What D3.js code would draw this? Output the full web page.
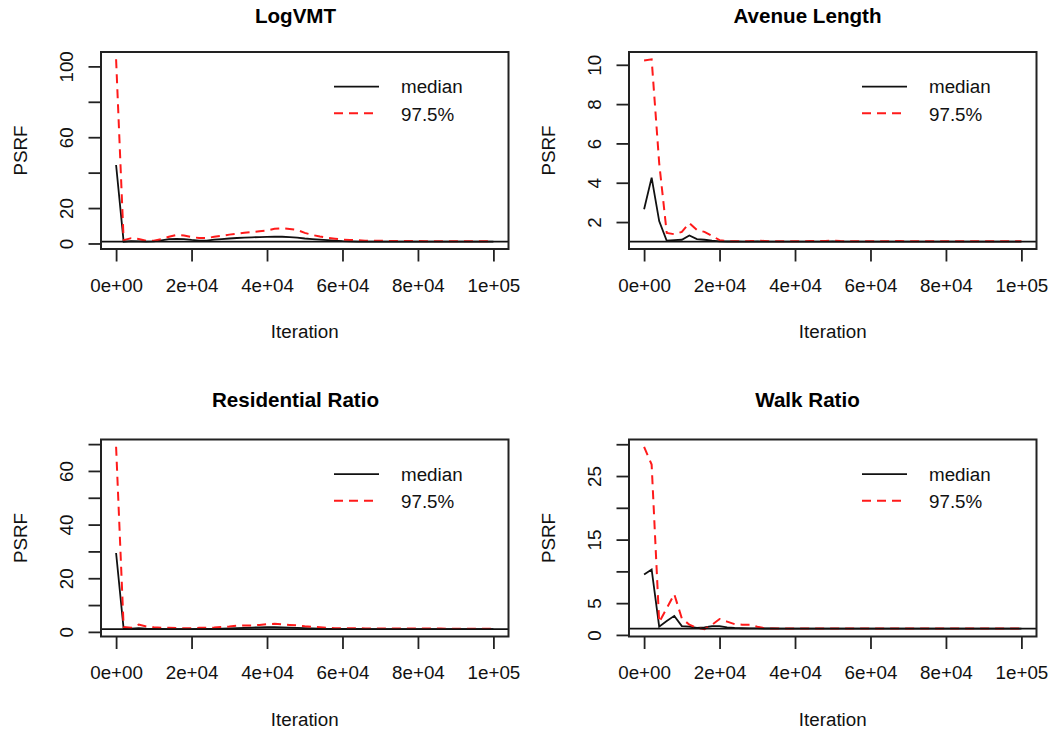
<!DOCTYPE html>
<html>
<head>
<meta charset="utf-8">
<script src="https://cdn.jsdelivr.net/npm/d3@7"></script>
<style>
  body { margin: 0; background: #fff; }
  text { font-family: "Liberation Sans", Arial, sans-serif; }
</style>
</head>
<body>
<svg id="chart"></svg>
<script>
// iterations at which the shrink factor was computed
const iterations = [0, 2000, 4000, 6000, 8000, 10000, 12000, 14000, 16000, 18000,
  20000, 22000, 24000, 26000, 28000, 30000, 32000, 34000, 36000, 38000,
  40000, 42000, 44000, 46000, 48000, 50000, 52000, 54000, 56000, 58000,
  60000, 62000, 64000, 66000, 68000, 70000, 72000, 74000, 76000, 78000,
  80000, 82000, 84000, 86000, 88000, 90000, 92000, 94000, 96000, 98000, 100000];

const logvmtMedian = [44.3, 1.0, 1.3, 1.2, 1.1, 1.2, 1.8, 2.4, 2.6, 2.5,
  2.0, 1.6, 1.6, 2.2, 2.5, 2.8, 3.1, 3.3, 3.5, 3.6,
  3.7, 3.8, 3.8, 3.6, 3.3, 2.8, 2.5, 2.2, 1.9, 1.6,
  1.3, 1.2, 1.1, 1.1, 1.1, 1.08, 1.08, 1.07, 1.06, 1.06,
  1.05, 1.05, 1.05, 1.04, 1.04, 1.04, 1.03, 1.03, 1.03, 1.03, 1.02];
const logvmtUpper = [104, 1.8, 3.0, 2.5, 1.5, 1.6, 2.5, 3.8, 4.8, 4.5,
  3.6, 3.1, 3.0, 3.8, 4.3, 5.0, 5.5, 6.0, 6.4, 6.9,
  7.3, 8.3, 8.6, 8.2, 7.6, 6.0, 4.8, 3.9, 3.2, 2.7,
  2.2, 2.0, 1.8, 1.6, 1.5, 1.5, 1.45, 1.4, 1.4, 1.35,
  1.35, 1.3, 1.3, 1.3, 1.28, 1.25, 1.25, 1.22, 1.2, 1.2, 1.18];

const avenueMedian = [2.65, 4.26, 2.05, 1.05, 1.08, 1.1, 1.32, 1.13, 1.1, 1.05,
  1.02, 1.01, 1.01, 1.0, 1.0, 1.01, 1.0, 1.0, 1.0, 1.0,
  1.0, 1.0, 1.0, 1.0, 1.0, 1.01, 1.0, 1.0, 1.0, 1.0,
  1.0, 1.0, 1.0, 1.0, 1.0, 1.0, 1.0, 1.0, 1.0, 1.0,
  1.0, 1.0, 1.0, 1.0, 1.0, 1.0, 1.0, 1.0, 1.0, 1.0, 1.0];
const avenueUpper = [10.22, 10.28, 5.0, 1.45, 1.38, 1.5, 1.95, 1.6, 1.5, 1.3,
  1.08, 1.03, 1.02, 1.02, 1.03, 1.05, 1.04, 1.02, 1.02, 1.02,
  1.02, 1.02, 1.03, 1.03, 1.04, 1.05, 1.03, 1.02, 1.02, 1.02,
  1.02, 1.02, 1.02, 1.03, 1.03, 1.02, 1.02, 1.02, 1.02, 1.02,
  1.02, 1.02, 1.02, 1.02, 1.02, 1.02, 1.02, 1.02, 1.02, 1.02, 1.02];

const residentialMedian = [29.4, 1.1, 1.2, 1.4, 1.2, 1.1, 1.1, 1.05, 1.05, 1.05,
  1.05, 1.1, 1.1, 1.15, 1.2, 1.3, 1.4, 1.5, 1.6, 1.7,
  1.75, 1.75, 1.7, 1.6, 1.5, 1.4, 1.3, 1.2, 1.15, 1.1,
  1.08, 1.07, 1.07, 1.06, 1.06, 1.05, 1.05, 1.05, 1.04, 1.04,
  1.04, 1.03, 1.03, 1.03, 1.03, 1.02, 1.02, 1.02, 1.02, 1.02, 1.02];
const residentialUpper = [69, 1.8, 1.5, 2.7, 2.0, 1.7, 1.5, 1.5, 1.4, 1.4,
  1.4, 1.5, 1.5, 1.6, 1.8, 2.0, 2.3, 2.4, 2.4, 2.6,
  2.9, 3.0, 2.8, 2.6, 2.4, 2.1, 1.9, 1.7, 1.5, 1.4,
  1.4, 1.35, 1.35, 1.3, 1.3, 1.3, 1.28, 1.28, 1.25, 1.25,
  1.25, 1.22, 1.22, 1.22, 1.2, 1.2, 1.2, 1.2, 1.2, 1.2, 1.2];

const walkMedian = [9.5, 10.3, 1.3, 2.2, 3.0, 1.4, 1.3, 1.1, 1.2, 1.4,
  1.4, 1.2, 1.1, 1.05, 1.02, 1.02, 1.01, 1.01, 1.0, 1.0,
  1.0, 1.0, 1.0, 1.0, 1.0, 1.0, 1.0, 1.0, 1.0, 1.0,
  1.0, 1.0, 1.0, 1.0, 1.0, 1.0, 1.0, 1.0, 1.0, 1.0,
  1.0, 1.0, 1.0, 1.0, 1.0, 1.0, 1.0, 1.0, 1.0, 1.0, 1.0];
const walkUpper = [29.6, 26.8, 2.0, 4.2, 6.4, 2.6, 1.6, 1.1, 0.9, 1.6,
  2.5, 2.1, 1.7, 1.6, 1.6, 1.3, 1.05, 1.02, 1.0, 1.0,
  1.0, 1.0, 1.0, 1.0, 1.0, 1.0, 1.0, 1.0, 1.0, 1.02,
  1.02, 1.01, 1.0, 1.0, 1.0, 1.0, 1.0, 1.01, 1.01, 1.0,
  1.0, 1.0, 1.0, 1.0, 1.0, 1.01, 1.01, 1.0, 1.0, 1.0, 1.0];

// tick values and labels (R drops labels that would overlap)
const xTicks = [0, 20000, 40000, 60000, 80000, 100000];
const xTickLabels = ["0e+00", "2e+04", "4e+04", "6e+04", "8e+04", "1e+05"];
const logvmtTicks = [0, 20, 40, 60, 80, 100];
const logvmtTickLabels = ["0", "20", "", "60", "", "100"];
const avenueTicks = [2, 4, 6, 8, 10];
const avenueTickLabels = ["2", "4", "6", "8", "10"];
const residentialTicks = [0, 10, 20, 30, 40, 50, 60, 70];
const residentialTickLabels = ["0", "", "20", "", "40", "", "60", ""];
const walkTicks = [0, 5, 10, 15, 20, 25, 30];
const walkTickLabels = ["0", "5", "", "15", "", "25", ""];

const legendLabels = ["median", "97.5%"];

const width = 1060;
const height = 733;
const box = { left: 101, right: 508.5, top: 52, bottom: 249 };
const colX = [0, 528];
const rowY = [0, 387.5];
const titleX = [295.5, 807.5];
const titleY = [23, 407];

const svg = d3.select("#chart")
  .attr("width", width)
  .attr("height", height)
  .attr("viewBox", `0 0 ${width} ${height}`);

svg.append("rect").attr("width", width).attr("height", height).attr("fill", "#fff");

const panels = [
  { title: "LogVMT", col: 0, row: 0, median: logvmtMedian, upper: logvmtUpper, yTicks: logvmtTicks, yLabels: logvmtTickLabels },
  { title: "Avenue Length", col: 1, row: 0, median: avenueMedian, upper: avenueUpper, yTicks: avenueTicks, yLabels: avenueTickLabels },
  { title: "Residential Ratio", col: 0, row: 1, median: residentialMedian, upper: residentialUpper, yTicks: residentialTicks, yLabels: residentialTickLabels },
  { title: "Walk Ratio", col: 1, row: 1, median: walkMedian, upper: walkUpper, yTicks: walkTicks, yLabels: walkTickLabels }
];

const fontSize = "18.8px";
const redDash = "9,6";

panels.forEach(p => {
  const g = svg.append("g")
    .attr("transform", `translate(${colX[p.col]},${rowY[p.row]})`);

  // R style axis limits: data range padded by 4% on each side
  const xr = d3.extent(iterations);
  const yr = d3.extent(p.median.concat(p.upper, [1]));
  const px = (xr[1] - xr[0]) * 0.04;
  const py = (yr[1] - yr[0]) * 0.04;

  const x = d3.scaleLinear()
    .domain([xr[0] - px, xr[1] + px])
    .range([box.left, box.right]);
  const y = d3.scaleLinear()
    .domain([yr[0] - py, yr[1] + py])
    .range([box.bottom, box.top]);

  const line = d3.line()
    .x((d, i) => x(iterations[i]))
    .y(d => y(d));

  // median
  g.append("path")
    .datum(p.median)
    .attr("d", line)
    .attr("fill", "none")
    .attr("stroke", "#111")
    .attr("stroke-width", 1.8);

  // 97.5% quantile
  g.append("path")
    .datum(p.upper)
    .attr("d", line)
    .attr("fill", "none")
    .attr("stroke", "#ff1a1a")
    .attr("stroke-width", 2)
    .attr("stroke-dasharray", redDash);

  // reference line at 1
  g.append("line")
    .attr("x1", box.left).attr("x2", box.right)
    .attr("y1", y(1)).attr("y2", y(1))
    .attr("stroke", "#111")
    .attr("stroke-width", 1.8);

  // box
  g.append("rect")
    .attr("x", box.left).attr("y", box.top)
    .attr("width", box.right - box.left)
    .attr("height", box.bottom - box.top)
    .attr("fill", "none")
    .attr("stroke", "#222")
    .attr("stroke-width", 2);

  // X axis
  const xAxis = g.append("g")
    .attr("transform", `translate(0,${box.bottom})`)
    .call(d3.axisBottom(x)
      .tickValues(xTicks)
      .tickFormat((d, i) => xTickLabels[i])
      .tickSize(12.5)
      .tickSizeOuter(0));
  xAxis.select(".domain").remove();
  xAxis.selectAll("line").attr("stroke", "#222").attr("stroke-width", 1.8);
  xAxis.selectAll("text")
    .attr("y", 42.5)
    .attr("dy", 0)
    .attr("fill", "#111")
    .style("font-size", fontSize)
    .style("font-family", '"Liberation Sans", Arial, sans-serif');

  // Y axis
  const yAxis = g.append("g")
    .attr("transform", `translate(${box.left},0)`)
    .call(d3.axisLeft(y)
      .tickValues(p.yTicks)
      .tickFormat((d, i) => p.yLabels[i])
      .tickSize(12.5)
      .tickSizeOuter(0));
  yAxis.select(".domain").remove();
  yAxis.selectAll("line").attr("stroke", "#222").attr("stroke-width", 1.8);
  yAxis.selectAll("text")
    .attr("x", 0)
    .attr("y", 0)
    .attr("dy", 0)
    .attr("transform", "translate(-28.5,0) rotate(-90)")
    .attr("text-anchor", "middle")
    .attr("fill", "#111")
    .style("font-size", fontSize)
    .style("font-family", '"Liberation Sans", Arial, sans-serif');

  // axis titles
  g.append("text")
    .attr("x", (box.left + box.right) / 2)
    .attr("y", box.bottom + 89)
    .attr("text-anchor", "middle")
    .attr("fill", "#111")
    .style("font-size", fontSize)
    .text("Iteration");

  g.append("text")
    .attr("transform", `translate(${box.left - 74},${(box.top + box.bottom) / 2}) rotate(-90)`)
    .attr("text-anchor", "middle")
    .attr("fill", "#111")
    .style("font-size", fontSize)
    .text("PSRF");

  // legend
  const leg = g.append("g").attr("transform", `translate(${box.left},${box.top})`);
  leg.append("line")
    .attr("x1", 233).attr("x2", 278).attr("y1", 34.7).attr("y2", 34.7)
    .attr("stroke", "#111").attr("stroke-width", 1.8);
  leg.append("line")
    .attr("x1", 233).attr("x2", 278).attr("y1", 61.3).attr("y2", 61.3)
    .attr("stroke", "#ff1a1a").attr("stroke-width", 2)
    .attr("stroke-dasharray", redDash);
  leg.selectAll(".leglabel")
    .data(legendLabels)
    .enter()
    .append("text")
    .attr("class", "leglabel")
    .attr("x", 300)
    .attr("y", (d, i) => 41 + i * 27.5)
    .attr("fill", "#111")
    .style("font-size", fontSize)
    .text(d => d);

  // panel title
  svg.append("text")
    .attr("x", titleX[p.col])
    .attr("y", titleY[p.row])
    .attr("text-anchor", "middle")
    .attr("fill", "#000")
    .style("font-size", "20.6px")
    .style("font-weight", "bold")
    .text(p.title);
});
</script>
</body>
</html>
